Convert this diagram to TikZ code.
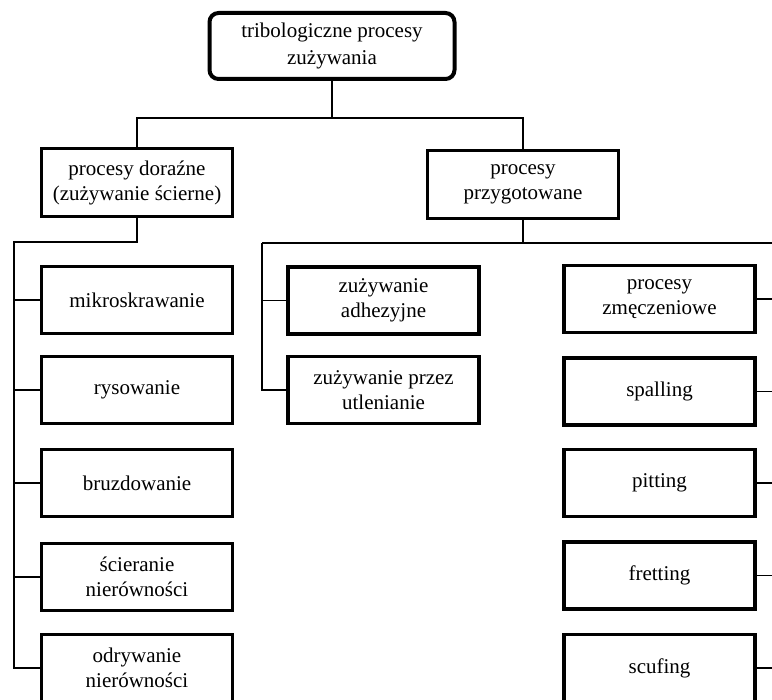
\documentclass[tikz,border=0pt]{standalone}
\usepackage{fontspec}
\setmainfont{Liberation Serif}
\begin{document}
\begin{tikzpicture}[x=1pt,y=-1pt,
  box/.style={draw, line width=3.2pt, align=center, inner sep=1pt,
    minimum width=191pt, minimum height=67pt, font=\fontsize{21}{25}\selectfont},
  conn/.style={line width=1.4pt}]
\useasboundingbox (0,0) rectangle (772,700);
% top
\node[box, line width=4pt, rounded corners=9pt, minimum width=245pt, minimum height=66pt, font=\fontsize{21}{27}\selectfont] (top) at (332,46) {tribologiczne procesy\\zużywania};
\node[box, minimum height=68pt] (dor) at (137,182.5) {procesy doraźne\\(zużywanie ścierne)};
\node[box, minimum height=68pt] (prz) at (523,184.5) {procesy\\przygotowane};
% left column
\node[box] (mik) at (137,300) {mikroskrawanie};
\node[box] (rys) at (137,390) {rysowanie};
\node[box] (bru) at (137,483) {bruzdowanie};
\node[box] (sci) at (137,577) {ścieranie\\nierówności};
\node[box] (odr) at (137,668) {odrywanie\\nierówności};
% middle column
\node[box] (adh) at (383.5,300.5) {zużywanie\\adhezyjne};
\node[box] (utl) at (383.5,390) {zużywanie przez\\utlenianie};
% right column
\node[box] (zme) at (659.5,299) {procesy\\zmęczeniowe};
\node[box] (spa) at (659.5,391.5) {spalling};
\node[box] (pit) at (659.5,483) {pitting};
\node[box] (fre) at (659.5,575.5) {fretting};
\node[box] (scu) at (659.5,668) {scufing};
% coordinates
\coordinate (hy) at (0,118);
\coordinate (lx) at (14,242);
\coordinate (mx) at (262,243);
\coordinate (rx) at (772,243);
% connectors
\draw[conn] (top.south) -- (top.south |- hy) -| (dor.north);
\draw[conn] (top.south |- hy) -| (prz.north);
\draw[conn] (dor.south) -- (dor.south |- lx) -- (lx) -- (lx |- odr.west) -- (odr.west);
\foreach \n in {mik,rys,bru,sci} \draw[conn] (lx |- \n.west) -- (\n.west);
\draw[conn] (prz.south) -- (prz.south |- mx);
\draw[conn] (mx) -- (rx);
\draw[conn] (mx) -- (mx |- utl.west) -- (utl.west);
\draw[conn] (mx |- adh.west) -- (adh.west);
\foreach \n in {zme,spa,pit,fre,scu} \draw[conn] (\n.east) -- (rx |- \n.east);
\end{tikzpicture}
\end{document}
